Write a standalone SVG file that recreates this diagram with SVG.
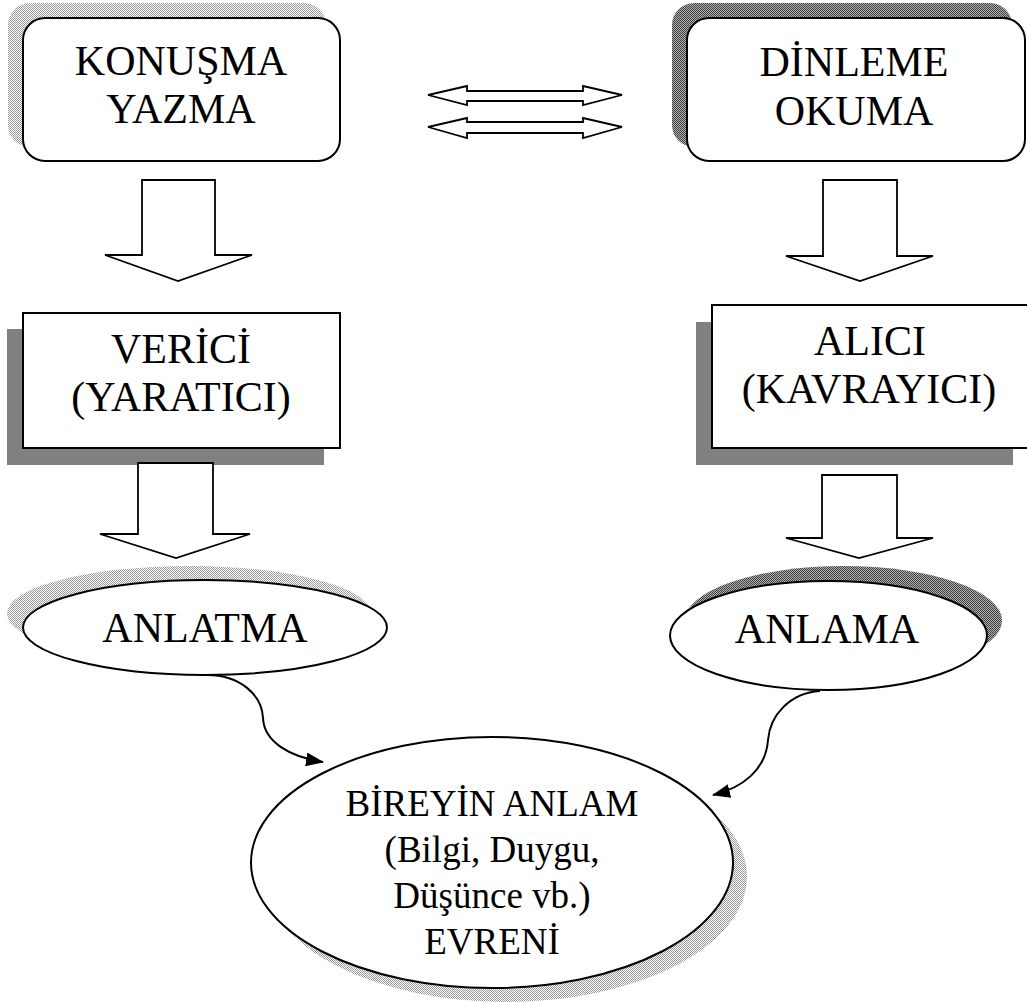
<svg xmlns="http://www.w3.org/2000/svg" width="1027" height="1003" viewBox="0 0 1027 1003">
<style>
.box{fill:#fff;stroke:#000;stroke-width:2}
.arr{fill:#fff;stroke:#000;stroke-width:1.8;stroke-linejoin:miter}
.t{font-family:"Liberation Serif","Times New Roman",serif;font-size:42px;fill:#000;text-anchor:middle}
.ts{font-family:"Liberation Serif","Times New Roman",serif;font-size:37px;fill:#000;text-anchor:middle}
.con{fill:none;stroke:#000;stroke-width:2}
.shl{fill:url(#lt)}
.shd{fill:url(#dk)}
.shg{fill:#808080}
</style>
<defs>
<pattern id="lt" width="2" height="2" patternUnits="userSpaceOnUse"><rect width="2" height="2" fill="#ffffff"/><rect width="1" height="1" fill="#999999"/><rect x="1" y="1" width="1" height="1" fill="#999999"/></pattern>
<pattern id="dk" width="2" height="2" patternUnits="userSpaceOnUse"><rect width="2" height="2" fill="#b0b0b0"/><rect width="1" height="1" fill="#404040"/><rect x="1" y="1" width="1" height="1" fill="#404040"/></pattern>
<marker id="ah" viewBox="0 0 18 14" refX="17" refY="7" markerWidth="18" markerHeight="14" markerUnits="userSpaceOnUse" orient="auto"><path d="M0,0 L18,7 L0,14 z" fill="#000"/></marker>
</defs>
<rect width="1027" height="1003" fill="#fff"/>

<g id="node-konusma">
<rect class="shl" x="8" y="3" width="318" height="144" rx="22"/>
<rect class="box" x="23" y="18" width="317" height="143" rx="22"/>
<text class="t" x="181" y="75">KONUŞMA</text>
<text class="t" x="181" y="123">YAZMA</text>
</g>

<g id="node-dinleme">
<rect class="shd" x="672" y="3" width="340" height="144" rx="22"/>
<rect class="box" x="687" y="18" width="338" height="143" rx="22"/>
<text class="t" x="854" y="76">DİNLEME</text>
<text class="t" x="854" y="125">OKUMA</text>
</g>

<g id="node-verici">
<rect class="shg" x="7" y="329" width="317" height="136"/>
<rect class="box" x="23" y="313" width="317" height="135"/>
<text class="t" x="181" y="363">VERİCİ</text>
<text class="t" x="181" y="411">(YARATICI)</text>
</g>

<g id="node-alici">
<rect class="shg" x="696" y="322" width="317" height="143"/>
<rect class="box" x="712" y="305" width="317" height="143"/>
<text class="t" x="870" y="355">ALICI</text>
<text class="t" x="869" y="403">(KAVRAYICI)</text>
</g>

<g id="node-anlatma">
<ellipse class="shl" cx="189" cy="613.5" rx="182" ry="47.5"/>
<ellipse class="box" cx="205" cy="627.5" rx="182" ry="47.5"/>
<text class="t" x="205" y="642">ANLATMA</text>
</g>

<g id="node-anlama">
<ellipse class="shd" cx="843.5" cy="620.5" rx="158.5" ry="54.5"/>
<ellipse class="box" cx="828.5" cy="635.5" rx="158.5" ry="54.5"/>
<text class="t" x="827" y="643">ANLAMA</text>
</g>

<g id="node-bireyin">
<ellipse class="shl" cx="506" cy="876.5" rx="241" ry="125.5"/>
<ellipse class="box" cx="492" cy="862.5" rx="241" ry="125.5"/>
<text class="ts" x="492" y="816">BİREYİN ANLAM</text>
<text class="ts" x="492" y="862">(Bilgi, Duygu,</text>
<text class="ts" x="492" y="908">Düşünce vb.)</text>
<text class="ts" x="492" y="954">EVRENİ</text>
</g>

<g id="connectors">
<polygon class="arr" points="428,95 467,86 467,91 583,91 583,86 622,95 583,105 583,101 467,101 467,105"/>
<polygon class="arr" points="428,127 467,118 467,122 583,122 583,118 622,127 583,138 583,133 467,133 467,138"/>
<polygon class="arr" points="142,180 215,180 215,255 252,255 178,281 105,255 142,255"/>
<polygon class="arr" points="823,180 897,180 897,256 933,256 860,281 786,256 823,256"/>
<polygon class="arr" points="138,463 213,463 213,534 250,534 176,558 100,534 138,534"/>
<polygon class="arr" points="822,475 897,475 897,538 933,538 859,558 786,538 822,538"/>
<path class="con" marker-end="url(#ah)" d="M207,675 C240,675 262,695 263,718 C264,742 290,757 323,762"/>
<path class="con" marker-end="url(#ah)" d="M820,691 C790,693 770,715 768,740 C766,770 742,788 713,795"/>
</g>
</svg>
